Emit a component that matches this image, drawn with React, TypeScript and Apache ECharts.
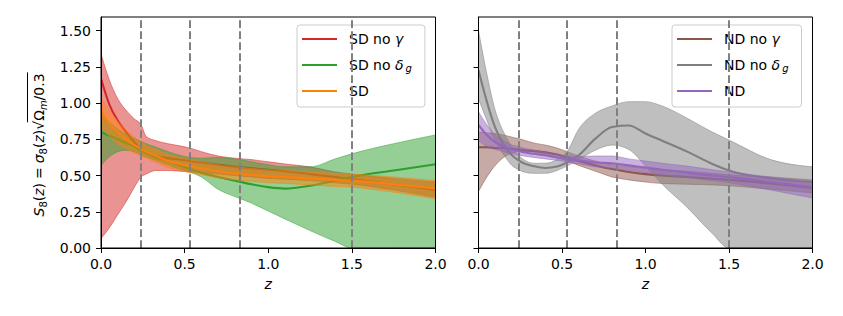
import React, { useEffect, useRef } from "react";
import * as echarts from "echarts";

// redshift sampling grid
const Z = [0, 0.05, 0.1, 0.15, 0.2, 0.24, 0.27, 0.33, 0.4, 0.47, 0.53, 0.6, 0.7, 0.8, 0.9, 1.0, 1.1, 1.25, 1.4, 1.5, 1.75, 2.0];

// Left panel: SD variants
const SD_NO_GAMMA_MEAN = [1.17, 0.99, 0.88, 0.80, 0.73, 0.68, 0.66, 0.635, 0.62, 0.61, 0.60, 0.59, 0.575, 0.56, 0.55, 0.54, 0.53, 0.51, 0.49, 0.475, 0.44, 0.40];
const SD_NO_GAMMA_LO = [0.065, 0.14, 0.23, 0.32, 0.42, 0.49, 0.51, 0.535, 0.535, 0.53, 0.525, 0.52, 0.51, 0.50, 0.49, 0.48, 0.475, 0.465, 0.45, 0.44, 0.40, 0.35];
const SD_NO_GAMMA_HI = [1.34, 1.16, 1.03, 0.95, 0.89, 0.85, 0.77, 0.74, 0.72, 0.705, 0.69, 0.665, 0.635, 0.62, 0.61, 0.595, 0.58, 0.56, 0.525, 0.51, 0.48, 0.455];

const SD_NO_DG_MEAN = [0.80, 0.775, 0.75, 0.725, 0.70, 0.67, 0.655, 0.625, 0.60, 0.57, 0.545, 0.52, 0.49, 0.465, 0.44, 0.42, 0.41, 0.43, 0.465, 0.49, 0.535, 0.578];
const SD_NO_DG_LO = [0.57, 0.63, 0.665, 0.675, 0.665, 0.645, 0.63, 0.605, 0.575, 0.545, 0.525, 0.49, 0.405, 0.355, 0.31, 0.255, 0.20, 0.12, 0.045, 0.0, 0.0, 0.0];
const SD_NO_DG_HI = [0.93, 0.87, 0.82, 0.785, 0.755, 0.735, 0.72, 0.695, 0.665, 0.64, 0.625, 0.62, 0.625, 0.615, 0.595, 0.575, 0.56, 0.56, 0.615, 0.65, 0.72, 0.78];

const SD_MEAN = [0.94, 0.86, 0.80, 0.75, 0.71, 0.685, 0.665, 0.635, 0.60, 0.58, 0.565, 0.55, 0.53, 0.515, 0.505, 0.495, 0.49, 0.48, 0.47, 0.465, 0.44, 0.41];
const SD_LO = [0.83, 0.77, 0.72, 0.685, 0.655, 0.635, 0.62, 0.59, 0.555, 0.535, 0.52, 0.505, 0.485, 0.47, 0.46, 0.45, 0.445, 0.435, 0.425, 0.42, 0.385, 0.34];
const SD_HI = [1.04, 0.95, 0.875, 0.815, 0.765, 0.735, 0.71, 0.68, 0.645, 0.625, 0.61, 0.595, 0.575, 0.56, 0.55, 0.54, 0.535, 0.525, 0.515, 0.51, 0.49, 0.465];

// Right panel: ND variants
const ND_NO_GAMMA_MEAN = [0.695, 0.695, 0.69, 0.69, 0.685, 0.68, 0.675, 0.67, 0.66, 0.645, 0.625, 0.60, 0.57, 0.545, 0.525, 0.51, 0.50, 0.49, 0.478, 0.47, 0.445, 0.415];
const ND_NO_GAMMA_LO = [0.39, 0.49, 0.57, 0.625, 0.655, 0.665, 0.665, 0.66, 0.645, 0.625, 0.60, 0.57, 0.53, 0.49, 0.47, 0.455, 0.445, 0.44, 0.435, 0.43, 0.405, 0.38];
const ND_NO_GAMMA_HI = [0.80, 0.795, 0.79, 0.78, 0.765, 0.755, 0.745, 0.725, 0.71, 0.69, 0.665, 0.635, 0.60, 0.575, 0.56, 0.55, 0.54, 0.53, 0.515, 0.505, 0.49, 0.47];

const ND_NO_DG_MEAN = [1.226, 1.01, 0.83, 0.715, 0.64, 0.605, 0.585, 0.565, 0.552, 0.562, 0.59, 0.64, 0.755, 0.835, 0.845, 0.79, 0.74, 0.665, 0.58, 0.535, 0.48, 0.455];
const ND_NO_DG_LO = [1.03, 0.88, 0.74, 0.645, 0.57, 0.54, 0.525, 0.515, 0.515, 0.535, 0.565, 0.61, 0.675, 0.71, 0.68, 0.565, 0.44, 0.28, 0.10, 0.0, 0.0, 0.0];
const ND_NO_DG_HI = [1.50, 1.20, 0.95, 0.80, 0.70, 0.64, 0.61, 0.585, 0.585, 0.61, 0.665, 0.82, 0.93, 0.98, 1.01, 1.01, 0.98, 0.895, 0.80, 0.745, 0.61, 0.56];

const ND_MEAN = [0.85, 0.78, 0.73, 0.70, 0.68, 0.67, 0.66, 0.65, 0.64, 0.625, 0.615, 0.605, 0.59, 0.585, 0.57, 0.555, 0.54, 0.52, 0.50, 0.49, 0.455, 0.42];
const ND_LO = [0.74, 0.70, 0.68, 0.665, 0.65, 0.64, 0.635, 0.625, 0.615, 0.605, 0.595, 0.58, 0.56, 0.55, 0.535, 0.52, 0.505, 0.485, 0.465, 0.45, 0.40, 0.345];
const ND_HI = [0.94, 0.85, 0.78, 0.74, 0.71, 0.70, 0.69, 0.675, 0.66, 0.645, 0.635, 0.63, 0.635, 0.635, 0.615, 0.60, 0.585, 0.565, 0.54, 0.525, 0.49, 0.455];

// bin edges (dashed lines) and ticks
const Z_BINS = [0.24, 0.53, 0.83, 1.5];
const Y_TICKS = [0, 0.25, 0.5, 0.75, 1.0, 1.25, 1.5];
const X_MIN = 0;
const X_MAX = 2;
const X_INTERVAL = 0.5;
const Y_MIN = 0;
const Y_MAX = 1.594;

// y-axis label pieces: [text, style]
const Y_LABEL_TOKENS: [string, string][] = [
  ["S", "i"], ["8", "s"], ["(", "n"], ["z", "i"], [")", "n"], ["=", "eq"],
  ["σ", "i"], ["8", "s"], ["(", "n"], ["z", "i"], [")", "n"], ["√", "n"],
  ["Ω", "n"], ["m", "si"], ["/0.3", "n"],
];

const FONT = "DejaVu Sans";

const C_RED = "#d62728";
const C_GREEN = "#2ca02c";
const C_ORANGE = "#ff7f0e";
const C_BROWN = "#8c564b";
const C_GRAY = "#7f7f7f";
const C_PURPLE = "#9467bd";

function rgba(hex: string, a: number) {
  const n = parseInt(hex.slice(1), 16);
  return `rgba(${(n >> 16) & 255},${(n >> 8) & 255},${n & 255},${a})`;
}

function sgn(x: number) {
  return x < 0 ? -1 : 1;
}

// monotone-x cubic segments in pixel space
function monotoneSegments(p: number[][]) {
  const n = p.length;
  const t: number[] = new Array(n).fill(0);
  for (let i = 1; i < n - 1; i++) {
    const h0 = p[i][0] - p[i - 1][0];
    const h1 = p[i + 1][0] - p[i][0];
    const s0 = (p[i][1] - p[i - 1][1]) / h0;
    const s1 = (p[i + 1][1] - p[i][1]) / h1;
    const pp = (s0 * h1 + s1 * h0) / (h0 + h1);
    t[i] = (sgn(s0) + sgn(s1)) * Math.min(Math.abs(s0), Math.abs(s1), 0.5 * Math.abs(pp)) || 0;
  }
  const h = p[1][0] - p[0][0];
  t[0] = h ? (3 * (p[1][1] - p[0][1]) / h - t[1]) / 2 : t[1];
  const h2 = p[n - 1][0] - p[n - 2][0];
  t[n - 1] = h2 ? (3 * (p[n - 1][1] - p[n - 2][1]) / h2 - t[n - 2]) / 2 : t[n - 2];
  const segs: number[][][] = [];
  for (let i = 0; i < n - 1; i++) {
    const [x0, y0] = p[i];
    const [x1, y1] = p[i + 1];
    const dx = (x1 - x0) / 3;
    segs.push([[x0, y0], [x0 + dx, y0 + dx * t[i]], [x1 - dx, y1 - dx * t[i + 1]], [x1, y1]]);
  }
  return segs;
}

const fmt = (q: number[]) => `${q[0].toFixed(2)},${q[1].toFixed(2)}`;

function curvePath(pts: number[][]) {
  let d = `M${fmt(pts[0])}`;
  monotoneSegments(pts).forEach((s) => {
    d += ` C${fmt(s[1])} ${fmt(s[2])} ${fmt(s[3])}`;
  });
  return d;
}

function bandPath(up: number[][], lo: number[][]) {
  const sl = monotoneSegments(lo);
  let d = curvePath(up);
  d += ` L${fmt(lo[lo.length - 1])}`;
  for (let i = sl.length - 1; i >= 0; i--) {
    const s = sl[i];
    d += ` C${fmt(s[2])} ${fmt(s[1])} ${fmt(s[0])}`;
  }
  return d + " Z";
}

function bandSeries(lo: number[], hi: number[], color: string, idx: number) {
  const rows = Z.map((z, i) => [z, lo[i], hi[i]]);
  return {
    type: "custom",
    xAxisIndex: idx,
    yAxisIndex: idx,
    data: rows,
    encode: { x: 0, y: [1, 2] },
    clip: true,
    silent: true,
    renderItem: (params: any, api: any) => {
      if (params.dataIndex !== 0) return null;
      const up = rows.map((r) => api.coord([r[0], r[2]]));
      const low = rows.map((r) => api.coord([r[0], r[1]]));
      return {
        type: "path",
        shape: { pathData: bandPath(up, low) },
        style: { fill: rgba(color, 0.5), stroke: rgba(color, 0.5), lineWidth: 1 },
        silent: true,
      };
    },
  };
}

function meanSeries(name: string, mean: number[], color: string, idx: number) {
  const rows = Z.map((z, i) => [z, mean[i]]);
  return {
    type: "custom",
    name,
    xAxisIndex: idx,
    yAxisIndex: idx,
    data: rows,
    encode: { x: 0, y: 1 },
    clip: true,
    silent: true,
    itemStyle: { color },
    renderItem: (params: any, api: any) => {
      if (params.dataIndex !== 0) return null;
      const pts = rows.map((r) => api.coord(r));
      return {
        type: "path",
        shape: { pathData: curvePath(pts) },
        style: { fill: "none", stroke: color, lineWidth: 2.1, lineJoin: "round" },
        silent: true,
      };
    },
  };
}

function binSeries(idx: number) {
  return {
    type: "line",
    name: "bins" + idx,
    xAxisIndex: idx,
    yAxisIndex: idx,
    data: [],
    silent: true,
    symbol: "none",
    markLine: {
      silent: true,
      symbol: ["none", "none"],
      label: { show: false },
      lineStyle: { color: "#808080", width: 2, type: [7.7, 3.3], opacity: 1 },
      emphasis: { disabled: true },
      data: Z_BINS.map((v) => ({ xAxis: v })),
    },
  };
}

const LEGEND_TEXT: Record<string, string> = {
  "SD no γ": "{p| }{t|SD no }{it|γ}",
  "SD no δg": "{p| }{t|SD no }{it|δ}{sub|g}",
  SD: "{p| }{t|SD}",
  "ND no γ": "{p| }{t|ND no }{it|γ}",
  "ND no δg": "{p| }{t|ND no }{it|δ}{sub|g}",
  ND: "{p| }{t|ND}",
};

const legendRich = {
  p: { width: 7, fontSize: 14, lineHeight: 16 },
  t: { fontSize: 14, fontFamily: FONT, color: "#000", lineHeight: 16 },
  it: { fontSize: 14, fontFamily: FONT, fontStyle: "italic", color: "#000", lineHeight: 16 },
  sub: { fontSize: 10, fontFamily: FONT, fontStyle: "italic", color: "#000", lineHeight: 16, verticalAlign: "bottom", padding: [0, 0, 0, 2] },
};

function legendCfg(names: string[], left: number) {
  return {
    data: names,
    orient: "vertical",
    left,
    top: 25,
    icon: "rect",
    itemWidth: 35,
    itemHeight: 2.2,
    itemGap: 10,
    padding: [6, 13, 8, 5],
    backgroundColor: "rgba(255,255,255,0.8)",
    borderColor: "#cccccc",
    borderWidth: 1,
    borderRadius: 3,
    selectedMode: false,
    formatter: (n: string) => LEGEND_TEXT[n] || n,
    textStyle: { fontSize: 14, lineHeight: 16, fontFamily: FONT, color: "#000", rich: legendRich },
  };
}

function xAxisCfg(grid: number) {
  return {
    type: "value",
    gridIndex: grid,
    min: X_MIN,
    max: X_MAX,
    interval: X_INTERVAL,
    z: 10,
    axisLine: { show: true, onZero: false, lineStyle: { color: "#000", width: 1 } },
    axisTick: { show: true, length: 5, lineStyle: { color: "#000", width: 1 } },
    axisLabel: { fontSize: 14, fontFamily: FONT, color: "#000", margin: 9, formatter: (v: number) => v.toFixed(1) },
    splitLine: { show: false },
    name: "z",
    nameLocation: "middle",
    nameGap: 29,
    nameTextStyle: { fontSize: 14, fontFamily: FONT, fontStyle: "italic", color: "#000" },
  };
}

function yAxisCfg(grid: number, labels: boolean) {
  return {
    type: "value",
    gridIndex: grid,
    min: Y_MIN,
    max: Y_MAX,
    z: 10,
    axisLine: { show: true, onZero: false, lineStyle: { color: "#000", width: 1 } },
    axisTick: { show: true, length: 5, customValues: Y_TICKS, lineStyle: { color: "#000", width: 1 } },
    axisLabel: {
      show: labels,
      customValues: Y_TICKS,
      fontSize: 14,
      fontFamily: FONT,
      color: "#000",
      margin: 10,
      formatter: (v: number) => v.toFixed(2),
    },
    splitLine: { show: false },
  };
}

function buildYLabel() {
  const canvas = document.createElement("canvas");
  const ctx = canvas.getContext("2d") as CanvasRenderingContext2D;
  const styles: Record<string, { size: number; italic: boolean; dx: number; pad: number }> = {
    n: { size: 14, italic: false, dx: 0, pad: 0 },
    i: { size: 14, italic: true, dx: 0, pad: 0 },
    s: { size: 10, italic: false, dx: 4, pad: 0 },
    si: { size: 10, italic: true, dx: 4, pad: 0 },
    eq: { size: 14, italic: false, dx: 0, pad: 4 },
  };
  const cx = 39;
  let y = 216.5;
  let sqrtEnd = 0;
  const els: any[] = [];
  Y_LABEL_TOKENS.forEach(([t, k]) => {
    const st = styles[k];
    ctx.font = `${st.italic ? "italic " : ""}${st.size}px "${FONT}"`;
    const w = ctx.measureText(t).width;
    y -= st.pad;
    els.push({
      type: "text",
      x: cx + st.dx,
      y,
      rotation: Math.PI / 2,
      silent: true,
      style: {
        text: t,
        fontSize: st.size,
        fontFamily: FONT,
        fontStyle: st.italic ? "italic" : "normal",
        fill: "#000",
        align: "left",
        verticalAlign: "middle",
      },
    });
    y -= w + st.pad;
    if (t === "√") sqrtEnd = y;
  });
  els.push({
    type: "line",
    silent: true,
    shape: { x1: 27.5, y1: sqrtEnd + 1.5, x2: 27.5, y2: y - 1 },
    style: { stroke: "#000", lineWidth: 1 },
  });
  return els;
}

function buildOption() {
  return {
    animation: false,
    backgroundColor: "#ffffff",
    textStyle: { fontFamily: FONT },
    grid: [
      { left: 101, top: 17, width: 334.5, height: 231, show: true, borderColor: "#000", borderWidth: 1, backgroundColor: "transparent", z: 10 },
      { left: 478.5, top: 17, width: 334, height: 231, show: true, borderColor: "#000", borderWidth: 1, backgroundColor: "transparent", z: 10 },
    ],
    xAxis: [xAxisCfg(0), xAxisCfg(1)],
    yAxis: [yAxisCfg(0, true), yAxisCfg(1, false)],
    legend: [legendCfg(["SD no γ", "SD no δg", "SD"], 297), legendCfg(["ND no γ", "ND no δg", "ND"], 672)],
    series: [
      bandSeries(SD_NO_GAMMA_LO, SD_NO_GAMMA_HI, C_RED, 0),
      meanSeries("SD no γ", SD_NO_GAMMA_MEAN, C_RED, 0),
      bandSeries(SD_NO_DG_LO, SD_NO_DG_HI, C_GREEN, 0),
      meanSeries("SD no δg", SD_NO_DG_MEAN, C_GREEN, 0),
      bandSeries(SD_LO, SD_HI, C_ORANGE, 0),
      meanSeries("SD", SD_MEAN, C_ORANGE, 0),
      binSeries(0),

      bandSeries(ND_NO_GAMMA_LO, ND_NO_GAMMA_HI, C_BROWN, 1),
      meanSeries("ND no γ", ND_NO_GAMMA_MEAN, C_BROWN, 1),
      bandSeries(ND_NO_DG_LO, ND_NO_DG_HI, C_GRAY, 1),
      meanSeries("ND no δg", ND_NO_DG_MEAN, C_GRAY, 1),
      bandSeries(ND_LO, ND_HI, C_PURPLE, 1),
      meanSeries("ND", ND_MEAN, C_PURPLE, 1),
      binSeries(1),
    ],
    graphic: buildYLabel(),
  };
}

export default function App() {
  const ref = useRef<HTMLDivElement>(null);
  useEffect(() => {
    document.body.style.margin = "0";
    const chart = echarts.init(ref.current as HTMLDivElement, null, { renderer: "svg" });
    chart.setOption(buildOption() as any);
    return () => chart.dispose();
  }, []);
  return <div ref={ref} style={{ width: 843, height: 316 }} />;
}
